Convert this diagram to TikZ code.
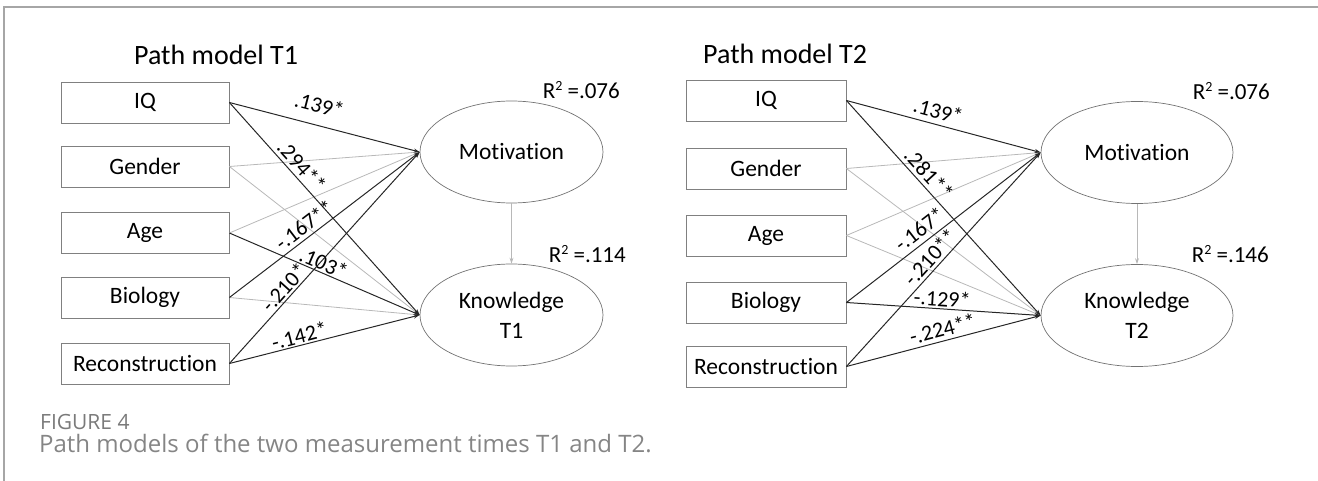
\documentclass[tikz,border=0pt]{standalone}
\usepackage{fontspec}
\setmainfont{Carlito}[Ligatures=CommonOff]
\newfontfamily\capfont{Open Sans}
\usetikzlibrary{shapes.geometric,arrows.meta}
\newcommand{\rsqtext}[1]{R\raisebox{0.38em}{\fontsize{14}{14}\selectfont 2} =#1}
\begin{document}
\begin{tikzpicture}[x=1pt,y=-1pt,
  box/.style={draw=black!50, line width=0.8pt, minimum height=41pt, inner sep=0pt,
    font=\fontsize{23.5}{28}\selectfont},
  lat/.style={draw=black!55, ellipse, line width=0.7pt, minimum height=102pt, inner sep=0pt,
    align=center, font=\fontsize{23.5}{30}\selectfont},
  sig/.style={draw=black!85, line width=1pt, -{Stealth[length=6pt,width=4pt]}},
  ns/.style={draw=black!28, line width=0.8pt, -{Stealth[length=6pt,width=4pt]}},
  lab/.style={font=\fontsize{22}{26}\selectfont, inner sep=0pt, sloped},
  ttl/.style={font=\fontsize{28}{32}\selectfont, anchor=base west, inner sep=0pt},
  rsq/.style={font=\fontsize{23}{28}\selectfont, inner sep=0pt, anchor=east},
  capA/.style={font=\capfont\fontsize{21}{24}\selectfont, text=black!52, anchor=base west, inner sep=0pt},
  capB/.style={font=\capfont\fontsize{24}{28}\selectfont, text=black!48, anchor=base west, inner sep=0pt}
]
\useasboundingbox (0,0) rectangle (1318,481);
% frame
\draw[black!35, line width=1.2pt] (4,481) -- (4,7) -- (1318,7);

% ---------- Path model T1 ----------
\node[ttl] (t1) at (134,65) {Path model T1};
\node[box, minimum width=168pt] (iq1)  at (145,102.5) {IQ};
\node[box, minimum width=168pt] (ge1)  at (145,166.5) {Gender};
\node[box, minimum width=168pt] (ag1)  at (145,233) {Age};
\node[box, minimum width=168pt] (bi1)  at (145,297.5) {Biology};
\node[box, minimum width=168pt] (re1)  at (145,363.5) {Reconstruction};
\node[lat, minimum width=183pt] (mo1) at (511.5,152) {Motivation};
\node[lat, minimum width=183pt] (kn1) at (511.5,315) {Knowledge\\T1};
\node[rsq] (r1a) at (620,90) {\rsqtext{.076}};
\node[rsq] (r1b) at (626,254) {\rsqtext{.114}};

\draw[ns] (ge1.east) -- (mo1.west);
\draw[ns] (ge1.east) -- (kn1.west);
\draw[ns] (ag1.east) -- (mo1.west);
\draw[ns] (bi1.east) -- (kn1.west);
\draw[ns] (mo1.south) -- (kn1.north);
\draw[sig] (iq1.east) -- node[lab, pos=.446, above=12pt] {.139*} (mo1.west);
\draw[sig] (iq1.east) -- node[lab, pos=.336, above=3.2pt] {.294**} (kn1.west);
\draw[sig] (ag1.east) -- node[lab, pos=.476, above=1.5pt] {.103*} (kn1.west);
\draw[sig] (bi1.east) -- node[lab, pos=.432, above=3.6pt] {-.167**} (mo1.west);
\draw[sig] (re1.east) -- node[lab, pos=.326, above=1.9pt] {-.210*} (mo1.west);
\draw[sig] (re1.east) -- node[lab, pos=.38, above=1.2pt] {-.142*} (kn1.west);

% ---------- Path model T2 ----------
\node[ttl] (t2) at (703,64) {Path model T2};
\node[box, minimum width=160pt] (iq2)  at (766,100.5) {IQ};
\node[box, minimum width=160pt] (ge2)  at (766,168.5) {Gender};
\node[box, minimum width=160pt] (ag2)  at (766,235.5) {Age};
\node[box, minimum width=160pt] (bi2)  at (766,302.5) {Biology};
\node[box, minimum width=160pt] (re2)  at (766,366.5) {Reconstruction};
\node[lat, minimum width=192pt] (mo2) at (1137,152.5) {Motivation};
\node[lat, minimum width=192pt] (kn2) at (1137,315.5) {Knowledge\\T2};
\node[rsq] (r2a) at (1270,91) {\rsqtext{.076}};
\node[rsq] (r2b) at (1269,254) {\rsqtext{.146}};

\draw[ns] (ge2.east) -- (mo2.west);
\draw[ns] (ge2.east) -- (kn2.west);
\draw[ns] (ag2.east) -- (mo2.west);
\draw[ns] (ag2.east) -- (kn2.west);
\draw[ns] (mo2.south) -- (kn2.north);
\draw[sig] (iq2.east) -- node[lab, pos=.455, above=5.4pt] {.139*} (mo2.west);
\draw[sig] (iq2.east) -- node[lab, pos=.38, above=3.5pt] {.281**} (kn2.west);
\draw[sig] (bi2.east) -- node[lab, pos=.418, above=5.1pt] {-.167*} (mo2.west);
\draw[sig] (re2.east) -- node[lab, pos=.475, above=3pt] {-.210**} (mo2.west);
\draw[sig] (bi2.east) -- node[lab, pos=.49, above=1.8pt] {-.129*} (kn2.west);
\draw[sig] (re2.east) -- node[lab, pos=.511, above=3.6pt] {-.224**} (kn2.west);

% ---------- caption ----------
\node[capA] (fig) at (40,429) {FIGURE 4};
\node[capB] (cap) at (39,452) {Path models of the two measurement times T1 and T2.};
\end{tikzpicture}
\end{document}
